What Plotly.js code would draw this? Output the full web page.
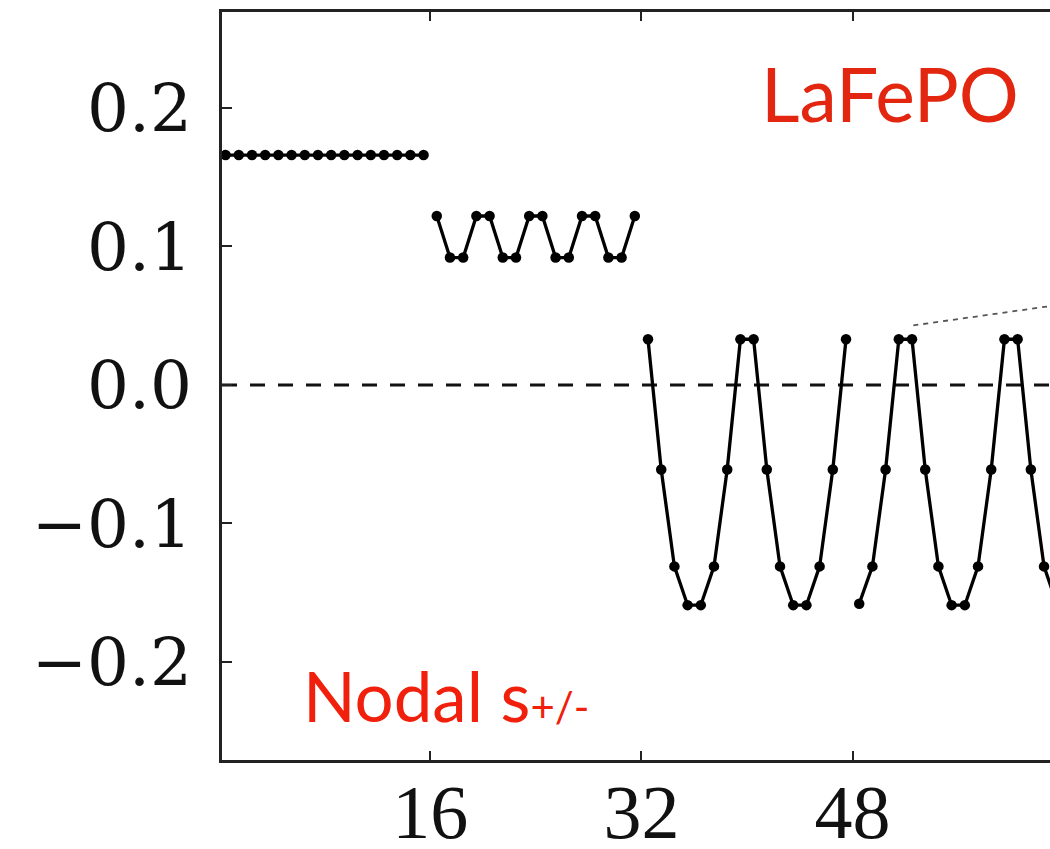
<!DOCTYPE html>
<html>
<head>
<meta charset="utf-8">
<script src="https://cdn.plot.ly/plotly-3.0.1.min.js"></script>
<style>
html, body { margin:0; padding:0; overflow:hidden; background:#fff; }
#chart { width:1200px; height:849px; }
</style>
</head>
<body>
<div id="chart"></div>
<script>
// Tick values
const xTickVals = [16, 32, 48];
const yTickVals = [-0.2, -0.1, 0.0, 0.1, 0.2];

// Segment 1 (flat)
const seg1X = [0.5, 1.5, 2.5, 3.5, 4.5, 5.5, 6.5, 7.5, 8.5, 9.5, 10.5, 11.5, 12.5, 13.5, 14.5, 15.5];
const seg1Y = [0.166, 0.166, 0.166, 0.166, 0.166, 0.166, 0.166, 0.166, 0.166, 0.166, 0.166, 0.166, 0.166, 0.166, 0.166, 0.166];

// Segment 2 (small oscillation)
const seg2X = [16.5, 17.5, 18.5, 19.5, 20.5, 21.5, 22.5, 23.5, 24.5, 25.5, 26.5, 27.5, 28.5, 29.5, 30.5, 31.5];
const seg2Y = [0.122, 0.092, 0.092, 0.122, 0.122, 0.092, 0.092, 0.122, 0.122, 0.092, 0.092, 0.122, 0.122, 0.092, 0.092, 0.122];

// Segment 3 (sign-changing)
const seg3X = [32.5, 33.5, 34.5, 35.5, 36.5, 37.5, 38.5, 39.5, 40.5, 41.5, 42.5, 43.5, 44.5, 45.5, 46.5, 47.5];
const seg3Y = [0.033, -0.061, -0.131, -0.159, -0.159, -0.131, -0.061, 0.033, 0.033, -0.061, -0.131, -0.159, -0.159, -0.131, -0.061, 0.033];

// Segment 4 (sign-changing, shifted)
const seg4X = [48.5, 49.5, 50.5, 51.5, 52.5, 53.5, 54.5, 55.5, 56.5, 57.5, 58.5, 59.5, 60.5, 61.5, 62.5, 63.5];
const seg4Y = [-0.158, -0.131, -0.061, 0.033, 0.033, -0.061, -0.131, -0.159, -0.159, -0.131, -0.061, 0.033, 0.033, -0.061, -0.131, -0.159];

// Leader line (to an off-image inset)
const leaderX = [52.6, 63.0];
const leaderY = [0.043, 0.057];

const segs = [[seg1X, seg1Y], [seg2X, seg2Y], [seg3X, seg3Y], [seg4X, seg4Y]];
const traces = segs.map(s => ({
  x: s[0], y: s[1], type: 'scatter', mode: 'lines+markers',
  line: {color: '#000', width: 3.3},
  marker: {color: '#000', size: 10.5},
  hoverinfo: 'skip', showlegend: false
}));
traces.push({
  x: leaderX, y: leaderY, type: 'scatter', mode: 'lines',
  line: {color: '#555', width: 1.8, dash: '5px,5px'},
  hoverinfo: 'skip', showlegend: false
});

const layout = {
  width: 1200, height: 849,
  margin: {l: 222, r: 20, t: 12, b: 89},
  paper_bgcolor: '#fff', plot_bgcolor: '#fff',
  showlegend: false,
  xaxis: {
    range: [0.23, 72.8],
    tickvals: xTickVals,
    ticktext: xTickVals.map(String),
    ticks: 'inside', ticklen: 9, tickwidth: 2, tickcolor: '#222',
    showline: true, linecolor: '#222', linewidth: 2.8, mirror: 'ticks',
    showgrid: false, zeroline: false,
    tickfont: {family: 'Liberation Serif, serif', size: 76, color: '#111'},
    ticklabelstandoff: -16
  },
  yaxis: {
    range: [-0.2708, 0.2693],
    tickvals: yTickVals,
    tickformat: '.1f',
    ticks: 'inside', ticklen: 10, tickwidth: 2, tickcolor: '#222',
    showline: true, linecolor: '#222', linewidth: 2.8, mirror: 'ticks',
    showgrid: false, zeroline: false,
    tickfont: {family: 'DejaVu Serif, serif', size: 66, color: '#111'},
    ticklabelstandoff: 14
  },
  shapes: [{
    type: 'line', xref: 'paper', yref: 'y', x0: 0, x1: 1, y0: 0, y1: 0,
    line: {color: '#111', width: 3, dash: '15px,13px'}, layer: 'below'
  }],
  annotations: [
    {x: 50.8, y: 0.211, xref: 'x', yref: 'y', text: 'LaFePO', showarrow: false,
     font: {family: 'Lato, sans-serif', size: 75, color: '#e2260f'}},
    {x: 17.2, y: -0.2245, xref: 'x', yref: 'y',
     text: 'Nodal s<span style="font-size:42px">+/-</span>', showarrow: false,
     font: {family: 'Lato, sans-serif', size: 69, color: '#f0200c'}}
  ]
};

Plotly.newPlot('chart', traces, layout, {staticPlot: true});
</script>
</body>
</html>
